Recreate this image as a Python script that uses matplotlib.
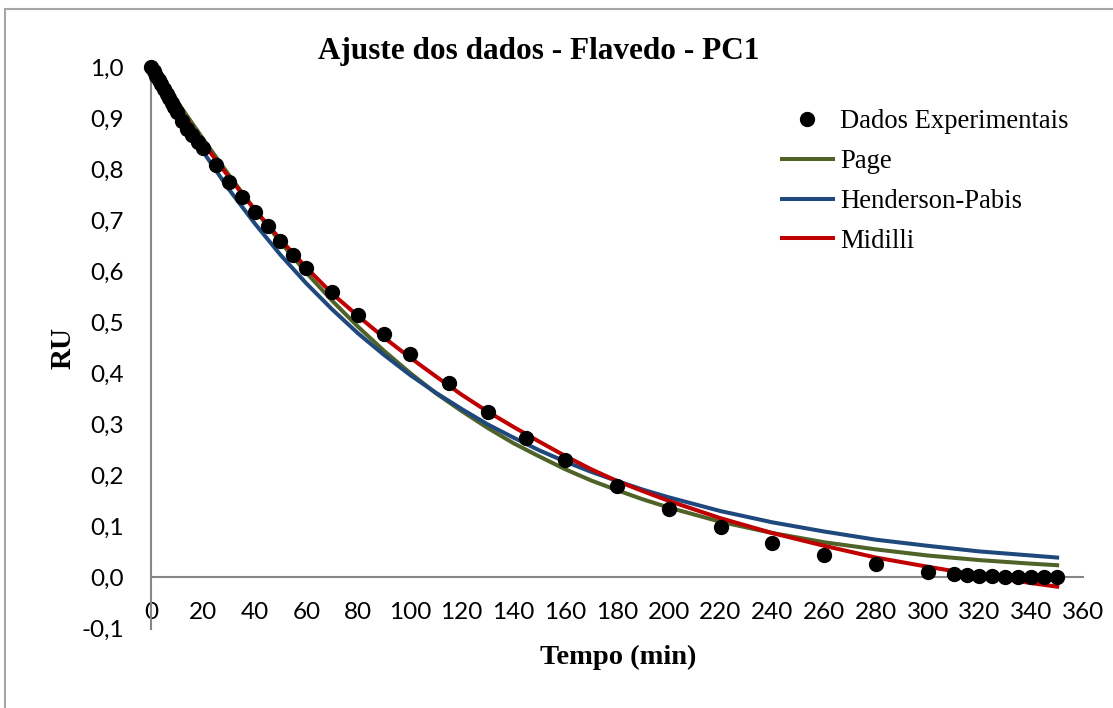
import matplotlib
matplotlib.use("Agg")
from matplotlib import pyplot as plt
from matplotlib.patches import Rectangle
from matplotlib.ticker import FixedLocator, FixedFormatter

# experimental points (tempo, RU)
t_exp = [0, 1, 2, 3, 4, 5, 6, 7, 8, 9, 10, 12, 14, 16, 18, 20, 25, 30, 35, 40,
         45, 50, 55, 60, 70, 80, 90, 100, 115, 130, 145, 160, 180, 200, 220,
         240, 260, 280, 300, 310, 315, 320, 325, 330, 335, 340, 345, 350]
ru_exp = [1.0, 0.992, 0.983, 0.975, 0.966, 0.957, 0.948, 0.939, 0.930, 0.921,
          0.912, 0.895, 0.879, 0.866, 0.853, 0.841, 0.808, 0.775, 0.745, 0.716,
          0.689, 0.660, 0.632, 0.606, 0.559, 0.514, 0.477, 0.438, 0.381, 0.324,
          0.273, 0.230, 0.179, 0.134, 0.099, 0.068, 0.044, 0.026, 0.011, 0.007,
          0.005, 0.003, 0.003, 0.001, 0.001, 0.001, 0.001, 0.001]

# model curves
t_mod = [0, 5, 10, 20, 30, 40, 50, 60, 70, 80, 90, 100, 110, 120, 130, 140,
         150, 160, 170, 180, 190, 200, 220, 240, 260, 280, 300, 320, 340, 350]
ru_page = [1.0, 0.969, 0.933, 0.860, 0.789, 0.721, 0.657, 0.597, 0.542, 0.491,
           0.444, 0.401, 0.361, 0.326, 0.293, 0.263, 0.237, 0.212, 0.190,
           0.171, 0.153, 0.137, 0.109, 0.087, 0.069, 0.055, 0.043, 0.034,
           0.027, 0.024]
ru_hp = [1.006, 0.960, 0.917, 0.835, 0.761, 0.694, 0.632, 0.576, 0.525, 0.478,
         0.436, 0.397, 0.362, 0.330, 0.300, 0.274, 0.249, 0.227, 0.207, 0.189,
         0.172, 0.157, 0.130, 0.108, 0.090, 0.074, 0.062, 0.051, 0.043, 0.039]
ru_mid = [1.0, 0.963, 0.925, 0.852, 0.785, 0.721, 0.662, 0.607, 0.556, 0.512,
          0.470, 0.431, 0.394, 0.358, 0.325, 0.295, 0.266, 0.238, 0.212, 0.189,
          0.169, 0.150, 0.116, 0.087, 0.062, 0.039, 0.021, 0.004, -0.011,
          -0.018]

x_ticks = list(range(0, 361, 20))
y_ticks = [-0.1, 0.0, 0.1, 0.2, 0.3, 0.4, 0.5, 0.6, 0.7, 0.8, 0.9, 1.0]
y_labels = ["-0,1", "0,0", "0,1", "0,2", "0,3", "0,4", "0,5", "0,6", "0,7",
            "0,8", "0,9", "1,0"]

W, H = 1113, 708
fig = plt.figure(figsize=(W / 100, H / 100), dpi=100)
ax = fig.add_axes([151 / W, 1 - 628.5 / H, (1083 - 151) / W, (628.5 - 67) / H])

# outer chart border
fig.add_artist(Rectangle((5 / W, -0.2), 1.2, 1.2 - 9 / H, transform=fig.transFigure,
                         fill=False, edgecolor="#a6a6a6", linewidth=1.5))

lw = 2.9
ax.plot(t_mod, ru_page, color="#4f6228", lw=lw, label="Page", clip_on=False, zorder=2)
ax.plot(t_mod, ru_hp, color="#1f497d", lw=lw, label="Henderson-Pabis", clip_on=False, zorder=3)
ax.plot(t_mod, ru_mid, color="#c00000", lw=lw, label="Midilli", clip_on=False, zorder=4)
ax.plot(t_exp, ru_exp, "o", color="black", ms=10, label="Dados Experimentais",
        clip_on=False, zorder=5)

ax.set_xlim(0, 360)
ax.set_ylim(-0.1, 1.0)
ax.spines["top"].set_visible(False)
ax.spines["right"].set_visible(False)
ax.spines["bottom"].set_position(("data", 0))
for s in ("left", "bottom"):
    ax.spines[s].set_color("#868686")
    ax.spines[s].set_linewidth(1.5)

ax.xaxis.set_major_locator(FixedLocator(x_ticks))
ax.yaxis.set_major_locator(FixedLocator(y_ticks))
ax.yaxis.set_major_formatter(FixedFormatter(y_labels))
ax.tick_params(axis="both", length=0, labelsize=17.5)
ax.tick_params(axis="x", pad=18)
ax.tick_params(axis="y", pad=19.5)
for lab in ax.get_xticklabels() + ax.get_yticklabels():
    lab.set_family("Lato")

fig.text(539 / W, 1 - 52 / H, "Ajuste dos dados - Flavedo - PC1", ha="center",
         va="center", family="Liberation Serif", weight="bold", fontsize=22.5)
fig.text(618 / W, 1 - 657 / H, "Tempo (min)", ha="center", va="center",
         family="Liberation Serif", weight="bold", fontsize=20.5)
fig.text(63 / W, 1 - 348 / H, "RU", ha="center", va="center", rotation=90,
         family="Liberation Serif", weight="bold", fontsize=21)

h, l = ax.get_legend_handles_labels()
order = [3, 0, 1, 2]
ax.legend([h[i] for i in order], [l[i] for i in order], loc="upper left",
          bbox_to_anchor=(782 / W, 1 - 109 / H), bbox_transform=fig.transFigure,
          frameon=False, borderpad=0, borderaxespad=0, handlelength=1.91,
          handletextpad=0.26, labelspacing=0.56,
          prop={"family": "Liberation Serif", "size": 19.2})

fig.savefig("out.png", dpi=100)
